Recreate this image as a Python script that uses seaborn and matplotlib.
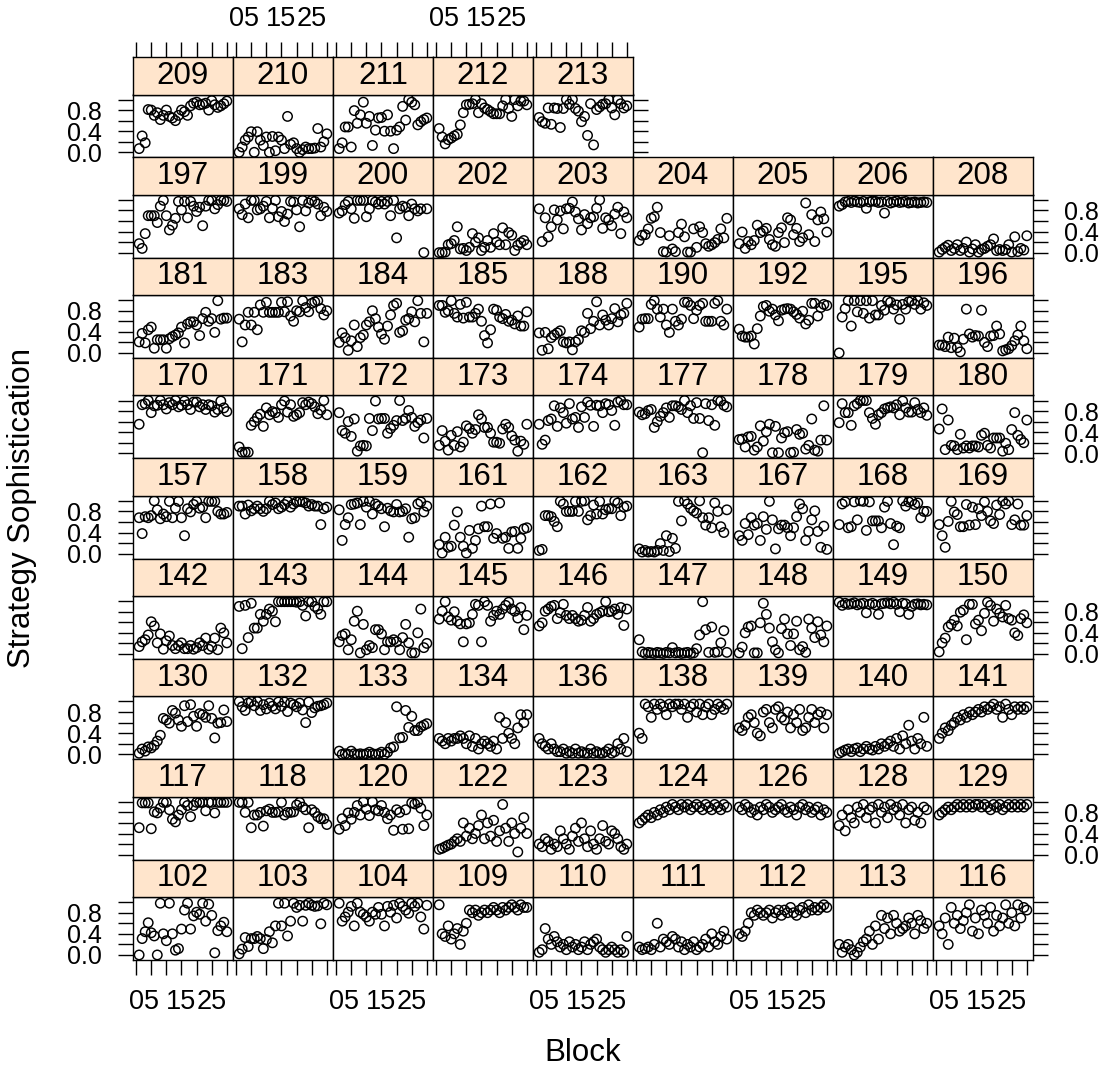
import matplotlib
matplotlib.use("Agg")
import matplotlib.pyplot as plt
import numpy as np
import pandas as pd
import seaborn as sns

# Strategy sophistication per block (blocks 1..30) for each subject
s102 = [0.00,0.31,0.44,0.61,0.42,0.36,0.00,0.98,0.40,0.27,0.98,0.40,0.09,0.12,0.49,0.85,0.98,0.49,0.74,0.81,0.77,0.98,0.64,0.96,0.75,0.04,0.46,0.55,0.62,0.44]
s103 = [0.02,0.11,0.33,0.16,0.31,0.31,0.35,0.31,0.12,0.29,0.44,0.23,0.55,0.98,0.55,0.98,0.36,0.64,0.98,0.90,0.94,0.64,0.94,0.98,0.94,0.92,0.93,0.59,0.98,0.95]
s104 = [0.98,0.64,0.72,0.81,0.92,0.55,0.98,0.81,0.77,0.72,0.64,0.81,0.77,0.90,0.77,0.55,0.92,0.81,0.94,0.70,0.98,0.92,0.85,0.79,0.98,0.92,0.98,0.72,0.49,0.94]
s109 = [0.95,0.40,0.35,0.55,0.30,0.40,0.50,0.20,0.45,0.60,0.85,0.80,0.85,0.75,0.80,0.85,0.80,0.85,0.90,0.85,0.80,0.90,0.85,0.90,0.95,0.90,0.85,0.95,0.90,0.90]
s110 = [0.05,0.10,0.50,0.30,0.20,0.35,0.25,0.15,0.20,0.10,0.25,0.15,0.20,0.10,0.15,0.25,0.10,0.20,0.25,0.30,0.15,0.10,0.05,0.10,0.15,0.10,0.05,0.10,0.05,0.35]
s111 = [0.15,0.10,0.12,0.15,0.10,0.20,0.60,0.15,0.30,0.25,0.20,0.35,0.30,0.15,0.25,0.10,0.20,0.15,0.25,0.10,0.15,0.20,0.30,0.15,0.40,0.25,0.20,0.35,0.45,0.30]
s112 = [0.40,0.35,0.45,0.60,0.80,0.75,0.85,0.80,0.75,0.80,0.85,0.70,0.80,0.85,0.75,0.85,0.80,0.90,0.80,0.75,0.85,0.90,0.80,0.95,0.85,0.90,0.85,0.90,0.95,0.90]
s113 = [0.20,0.05,0.15,0.20,0.10,0.00,0.05,0.15,0.25,0.30,0.45,0.20,0.55,0.30,0.75,0.50,0.70,0.40,0.75,0.60,0.45,0.50,0.55,0.70,0.60,0.40,0.75,0.65,0.50,0.60]
s116 = [0.55,0.40,0.70,0.20,0.90,0.60,0.75,0.50,0.65,0.80,0.95,0.45,0.70,0.40,0.85,0.75,0.60,0.90,0.45,0.75,0.55,0.70,0.95,0.60,0.80,0.55,0.95,0.70,0.90,0.85]
s117 = [0.51,0.98,0.98,0.98,0.49,0.81,0.79,0.88,0.99,0.99,0.85,0.67,0.62,0.75,0.85,0.99,0.93,0.72,0.93,0.99,0.99,0.99,0.83,0.99,0.99,0.79,0.99,0.99,0.99,0.99]
s118 = [0.99,0.99,0.80,0.99,0.51,0.75,0.75,0.80,0.54,0.83,0.86,0.80,0.80,0.81,0.99,0.75,0.80,0.80,0.81,0.94,0.99,0.90,0.85,0.51,0.85,0.80,0.72,0.68,0.68,0.57]
s120 = [0.48,0.68,0.55,0.79,0.67,0.80,0.93,0.75,1.00,0.86,0.74,1.00,0.85,0.83,0.93,0.80,0.68,0.75,0.46,0.85,0.80,0.48,0.85,0.49,0.98,0.96,0.99,0.88,0.55,0.75]
s122 = [0.10,0.12,0.15,0.18,0.20,0.25,0.30,0.25,0.60,0.35,0.50,0.30,0.40,0.55,0.75,0.30,0.60,0.35,0.65,0.25,0.45,0.95,0.50,0.25,0.60,0.40,0.05,0.50,0.70,0.40]
s123 = [0.20,0.15,0.30,0.25,0.10,0.20,0.15,0.45,0.30,0.20,0.10,0.35,0.50,0.25,0.60,0.30,0.15,0.45,0.20,0.10,0.30,0.55,0.25,0.20,0.45,0.40,0.30,0.15,0.10,0.20]
s124 = [0.60,0.65,0.70,0.75,0.70,0.80,0.75,0.85,0.80,0.90,0.85,0.95,0.90,0.85,0.95,0.90,0.95,0.85,0.90,0.95,0.90,0.85,0.95,0.90,0.85,0.95,0.90,0.85,0.95,0.90]
s126 = [0.90,0.85,0.95,0.90,0.80,0.85,0.75,0.90,0.85,0.95,0.90,0.80,0.85,0.90,0.95,0.85,0.80,0.90,0.85,0.75,0.90,0.95,0.85,0.90,0.80,0.85,0.90,0.75,0.85,0.80]
s128 = [0.55,0.75,0.45,0.85,0.70,0.60,0.90,0.80,0.95,0.70,0.85,0.90,0.60,0.95,0.80,0.90,0.70,0.95,0.85,0.90,0.75,0.95,0.60,0.85,0.90,0.65,0.80,0.60,0.90,0.85]
s129 = [0.75,0.80,0.85,0.90,0.85,0.90,0.95,0.90,0.95,0.90,0.95,0.90,0.95,0.95,0.90,0.95,0.90,0.85,0.95,0.90,0.95,0.85,0.90,0.95,0.90,0.95,0.90,0.95,0.90,0.95]
s130 = [0.02,0.10,0.06,0.14,0.12,0.17,0.25,0.36,0.68,0.65,0.59,0.83,0.78,0.65,0.53,0.92,0.62,0.94,0.72,0.53,0.77,0.75,0.70,0.92,0.68,0.31,0.59,0.60,0.84,0.62]
s132 = [1.00,0.90,0.83,0.97,1.00,0.92,1.00,0.83,0.94,0.86,0.97,0.91,0.86,0.99,0.91,0.99,0.81,0.97,0.94,0.90,0.97,0.84,0.60,0.99,0.79,0.88,0.91,0.92,0.94,0.97]
s133 = [0.06,0.00,0.01,0.00,0.06,0.01,0.00,0.01,0.00,0.01,0.04,0.01,0.00,0.01,0.04,0.00,0.04,0.12,0.14,0.90,0.31,0.32,0.83,0.51,0.72,0.45,0.45,0.52,0.55,0.58]
s134 = [0.30,0.25,0.20,0.30,0.25,0.30,0.30,0.35,0.30,0.20,0.35,0.15,0.30,0.10,0.20,0.25,0.20,0.15,0.25,0.10,0.70,0.30,0.60,0.40,0.30,0.20,0.50,0.75,0.60,0.75]
s136 = [0.30,0.20,0.15,0.10,0.20,0.10,0.05,0.05,0.10,0.02,0.05,0.02,0.10,0.02,0.05,0.02,0.02,0.10,0.02,0.05,0.02,0.02,0.05,0.10,0.02,0.05,0.20,0.10,0.30,0.05]
s138 = [0.40,0.30,0.95,0.90,0.70,0.95,0.85,0.95,0.90,0.75,0.95,0.90,0.95,0.95,0.85,0.95,0.70,0.90,0.95,0.80,0.95,0.75,0.90,0.95,0.75,0.85,0.95,0.90,0.85,0.95]
s139 = [0.50,0.45,0.55,0.70,0.75,0.60,0.40,0.35,0.80,0.85,0.60,0.50,0.85,0.90,0.70,0.65,0.80,0.50,0.75,0.60,0.85,0.45,0.50,0.70,0.85,0.60,0.75,0.80,0.50,0.75]
s140 = [0.02,0.05,0.08,0.10,0.05,0.10,0.12,0.05,0.10,0.15,0.10,0.08,0.15,0.10,0.20,0.15,0.20,0.25,0.15,0.30,0.10,0.35,0.20,0.55,0.25,0.10,0.30,0.20,0.70,0.15]
s141 = [0.30,0.40,0.50,0.45,0.55,0.60,0.70,0.65,0.75,0.70,0.80,0.75,0.80,0.85,0.80,0.90,0.85,0.90,0.95,0.85,0.90,0.70,0.95,0.85,0.75,0.90,0.85,0.90,0.85,0.90]
s142 = [0.14,0.23,0.27,0.36,0.61,0.53,0.21,0.38,0.09,0.25,0.34,0.16,0.10,0.16,0.21,0.10,0.10,0.16,0.09,0.12,0.21,0.16,0.30,0.09,0.14,0.30,0.08,0.49,0.40,0.21]
s143 = [0.90,0.10,0.92,0.31,0.96,0.49,0.49,0.75,0.62,0.75,0.85,0.81,0.61,0.99,0.99,0.99,0.99,0.99,0.99,0.98,0.99,0.92,0.72,0.99,0.99,0.90,0.85,0.75,0.99,0.99]
s144 = [0.23,0.35,0.38,0.08,0.27,0.62,0.81,0.02,0.56,0.08,0.16,0.12,0.46,0.46,0.38,0.08,0.23,0.23,0.27,0.23,0.08,0.31,0.56,0.21,0.02,0.02,0.40,0.85,0.12,0.20]
s145 = [0.66,0.81,0.99,0.70,0.64,0.80,0.62,0.57,0.23,0.57,0.59,0.75,0.94,0.92,0.23,0.99,0.92,0.62,0.73,0.81,0.75,0.85,0.92,0.98,0.85,0.81,0.68,0.88,0.46,0.73]
s146 = [0.53,0.59,0.81,0.85,0.90,0.92,0.67,0.78,0.94,0.73,0.67,0.73,0.67,0.62,0.64,0.73,0.88,0.62,0.67,0.75,0.78,0.81,0.99,0.80,0.81,0.85,0.75,0.88,0.54,0.85]
s147 = [0.27,0.04,0.01,0.03,0.02,0.01,0.03,0.02,0.01,0.03,0.02,0.12,0.02,0.03,0.01,0.02,0.03,0.01,0.02,0.10,0.36,0.99,0.46,0.03,0.51,0.03,0.04,0.21,0.44,0.03]
s148 = [0.02,0.13,0.40,0.51,0.53,0.02,0.02,0.59,0.96,0.75,0.49,0.23,0.08,0.02,0.48,0.66,0.38,0.16,0.38,0.62,0.08,0.14,0.03,0.66,0.49,0.31,0.61,0.36,0.23,0.53]
s149 = [0.98,0.92,0.96,0.94,0.95,0.97,0.93,0.95,0.96,0.78,0.94,0.96,0.93,0.75,0.95,0.96,0.97,0.95,0.98,0.94,0.80,0.96,0.95,0.75,0.90,0.94,0.95,0.93,0.94,0.93]
s150 = [0.04,0.21,0.30,0.51,0.56,0.64,0.53,0.79,0.83,0.27,0.94,0.94,0.57,0.64,0.44,0.77,0.98,0.92,0.62,0.85,0.77,0.70,0.92,0.67,0.64,0.40,0.35,0.67,0.74,0.59]
s157 = [0.68,0.38,0.70,0.68,0.72,1.00,0.83,0.66,0.75,0.70,0.99,0.68,0.86,0.99,0.68,0.34,0.85,0.79,0.93,0.99,0.86,0.88,0.68,0.99,0.99,0.99,0.80,0.75,0.75,0.78]
s158 = [0.90,0.90,0.75,0.92,0.81,0.85,0.90,0.85,0.80,0.85,0.99,0.93,0.96,0.85,0.88,0.93,0.99,0.88,0.94,0.98,0.99,0.98,0.96,0.90,0.93,0.90,0.90,0.55,0.85,0.88]
s159 = [0.83,0.25,0.55,0.68,0.93,0.94,0.96,0.55,0.99,0.88,0.99,0.75,0.94,0.90,0.85,0.51,0.86,0.81,0.79,0.93,0.79,0.80,0.85,0.31,0.66,0.68,0.94,0.98,0.79,0.90]
s161 = [0.17,0.01,0.31,0.12,0.14,0.54,0.79,0.31,0.14,0.01,0.44,0.10,0.25,0.47,0.90,0.51,0.51,0.94,0.29,0.38,0.96,0.29,0.31,0.10,0.41,0.42,0.10,0.29,0.47,0.49]
s162 = [0.06,0.08,0.72,0.72,0.70,0.61,0.51,0.99,0.94,0.80,0.80,0.80,0.99,0.80,0.99,1.00,0.64,0.72,0.92,0.75,0.99,0.75,0.83,0.85,0.85,1.00,0.96,0.72,0.88,0.90]
s163 = [0.09,0.03,0.06,0.03,0.04,0.03,0.06,0.19,0.06,0.34,0.04,0.29,0.10,0.99,0.62,1.00,0.94,0.86,0.81,0.77,1.00,0.68,0.54,0.68,0.49,0.96,0.80,0.51,0.40,0.83]
s167 = [0.34,0.25,0.57,0.36,0.68,0.54,0.57,0.25,0.70,0.46,0.99,0.64,0.09,0.47,0.54,0.54,0.49,0.34,0.49,0.70,0.94,0.85,0.25,0.42,0.64,0.81,0.42,0.12,0.52,0.08]
s168 = [0.55,0.94,0.98,0.49,0.51,0.98,0.64,1.00,0.99,0.44,0.98,0.62,0.62,0.62,0.49,0.88,0.99,0.57,0.17,0.52,0.49,1.00,0.90,0.98,1.00,0.93,0.96,0.68,0.80,0.80]
s169 = [0.55,0.34,0.12,0.61,0.99,0.79,0.74,0.51,0.51,0.93,0.54,0.88,0.55,0.85,0.72,0.98,0.80,0.62,0.57,0.92,0.74,1.00,0.94,1.00,0.55,0.64,0.94,0.54,0.54,0.72]
s170 = [0.55,0.92,0.94,1.00,0.77,0.90,0.91,1.00,0.92,0.84,0.96,0.92,1.00,0.88,0.91,0.99,0.92,0.83,0.97,0.97,0.88,0.92,0.83,0.92,0.90,0.78,0.83,0.99,0.86,0.79]
s171 = [0.12,0.02,0.02,0.02,0.53,0.60,0.68,0.74,0.51,0.86,0.73,0.79,0.77,0.68,0.92,0.99,0.78,0.92,0.70,0.73,0.77,0.96,0.92,0.97,0.94,0.88,0.75,0.82,1.00,0.73]
s172 = [0.77,0.43,0.38,0.60,0.32,0.65,0.04,0.14,0.15,0.14,0.66,0.43,0.99,0.65,0.66,0.66,0.38,0.47,0.53,0.62,1.00,0.62,0.66,0.81,0.68,0.51,0.58,0.63,0.29,0.66]
s173 = [0.15,0.43,0.23,0.06,0.34,0.15,0.41,0.12,0.21,0.52,0.47,0.38,0.45,0.73,0.65,0.49,0.49,0.38,0.21,0.21,0.19,0.46,0.55,0.49,0.33,0.25,0.04,0.23,0.17,0.55]
s174 = [0.55,0.17,0.25,0.62,0.65,0.90,0.51,0.86,0.77,0.57,0.94,0.65,0.68,0.49,0.88,0.68,0.97,0.91,0.51,0.91,0.90,0.77,0.94,0.92,0.81,0.53,0.97,1.00,0.92,0.92]
s177 = [0.78,0.73,0.75,0.81,0.83,0.49,0.60,0.70,0.77,0.86,0.68,0.90,0.90,0.88,0.83,1.00,0.77,0.90,0.66,0.96,0.66,0.01,0.94,0.62,0.92,0.53,1.00,0.99,0.91,0.88]
s178 = [0.26,0.27,0.12,0.31,0.32,0.06,0.12,0.52,0.23,0.41,0.55,0.01,0.51,0.01,0.29,0.39,0.41,0.01,0.02,0.45,0.36,0.38,0.08,0.15,0.65,0.06,0.04,0.25,0.90,0.25]
s179 = [0.58,0.94,0.77,0.77,0.53,0.90,0.94,1.00,1.00,1.00,0.77,0.66,0.55,0.73,0.77,0.84,0.86,0.88,0.86,0.92,0.73,0.99,0.86,0.78,0.78,0.96,0.83,0.77,0.86,0.72]
s180 = [0.46,0.84,0.07,0.63,0.15,0.14,0.07,0.36,0.10,0.14,0.10,0.14,0.14,0.12,0.34,0.38,0.15,0.10,0.29,0.29,0.29,0.04,0.19,0.07,0.45,0.77,0.34,0.26,0.20,0.63]
s181 = [0.21,0.37,0.19,0.44,0.49,0.09,0.25,0.25,0.25,0.09,0.27,0.31,0.34,0.38,0.49,0.19,0.55,0.59,0.59,0.53,0.33,0.65,0.77,0.60,0.65,0.39,0.99,0.64,0.66,0.66]
s183 = [0.64,0.21,0.53,0.77,0.53,0.77,0.44,0.91,0.77,0.96,0.77,0.77,0.77,0.77,0.96,0.78,0.97,0.70,0.60,0.80,0.78,0.99,0.86,0.78,0.94,0.97,0.99,0.84,0.72,0.80]
s184 = [0.20,0.38,0.29,0.05,0.23,0.53,0.12,0.29,0.34,0.53,0.59,0.80,0.65,0.49,0.36,0.26,0.51,0.72,0.90,0.94,0.39,0.42,0.62,0.65,0.78,0.59,0.99,0.75,0.21,0.75]
s185 = [0.90,0.90,0.77,0.80,0.99,0.75,0.68,0.92,0.66,0.96,0.68,0.68,0.75,0.83,0.60,0.33,0.19,0.44,0.83,0.81,0.68,0.65,0.73,0.60,0.62,0.55,0.70,0.51,0.51,0.78]
s188 = [0.38,0.05,0.39,0.08,0.29,0.34,0.38,0.42,0.21,0.19,0.21,0.06,0.21,0.25,0.42,0.39,0.75,0.46,0.60,0.97,0.53,0.72,0.62,0.53,0.65,0.84,0.59,0.72,0.75,0.94]
s190 = [0.49,0.64,0.65,0.65,0.92,0.99,0.83,0.68,0.83,0.53,0.39,0.83,0.60,0.53,0.64,0.96,0.96,0.90,0.65,0.81,0.90,0.94,0.60,0.60,0.60,0.94,0.99,0.60,0.53,0.83]
s192 = [0.45,0.32,0.30,0.30,0.32,0.17,0.46,0.70,0.88,0.90,0.79,0.83,0.72,0.61,0.81,0.83,0.84,0.83,0.78,0.73,0.66,0.79,0.55,0.62,0.94,0.94,0.70,0.86,0.92,0.90]
s195 = [0.00,0.68,0.84,0.99,0.51,0.99,0.78,0.99,0.75,0.99,0.66,0.99,0.72,0.72,0.90,0.81,0.99,0.96,0.83,0.91,0.64,0.92,0.83,0.97,0.99,0.92,0.99,0.83,0.95,0.90]
s196 = [0.15,0.15,0.12,0.30,0.10,0.28,0.10,0.02,0.26,0.83,0.36,0.30,0.33,0.32,0.81,0.20,0.12,0.32,0.33,0.51,0.36,0.04,0.06,0.08,0.14,0.23,0.34,0.51,0.23,0.08]
s197 = [0.17,0.08,0.36,0.70,0.70,0.70,0.57,0.88,0.99,0.70,0.43,0.52,0.65,0.97,0.81,0.97,0.66,0.97,0.88,0.78,0.86,0.51,0.88,0.99,0.99,0.83,0.91,0.99,0.99,0.97]
s199 = [0.83,0.72,0.92,0.66,0.99,0.99,0.81,0.83,0.88,0.97,0.66,0.84,0.99,0.68,0.78,0.59,0.73,0.97,0.96,0.81,0.49,0.99,0.79,0.94,0.99,0.97,0.92,0.70,0.86,0.78]
s200 = [0.75,0.79,0.91,0.97,0.83,0.65,0.99,0.99,0.99,0.68,0.83,0.99,0.96,0.92,0.97,0.92,0.97,0.70,0.99,0.28,0.83,0.88,0.86,0.70,0.92,0.83,0.79,0.83,0.00,0.83]
s202 = [0.00,0.00,0.01,0.15,0.17,0.23,0.49,0.07,0.08,0.04,0.10,0.36,0.20,0.28,0.04,0.10,0.23,0.10,0.36,0.20,0.15,0.47,0.15,0.38,0.33,0.04,0.14,0.19,0.23,0.15]
s203 = [0.83,0.21,0.66,0.30,0.49,0.81,0.62,0.79,0.45,0.83,0.84,0.96,0.77,0.64,0.43,0.72,0.55,0.66,0.68,0.84,1.00,0.46,0.66,0.62,0.51,0.73,0.86,0.36,0.77,0.66]
s204 = [0.23,0.33,0.34,0.45,0.65,0.68,0.86,0.38,0.02,0.01,0.32,0.07,0.02,0.38,0.54,0.30,0.01,0.01,0.45,0.10,0.49,0.38,0.17,0.12,0.15,0.19,0.25,0.45,0.28,0.65]
s205 = [0.17,0.39,0.08,0.21,0.15,0.23,0.52,0.38,0.41,0.46,0.25,0.15,0.12,0.38,0.47,0.19,0.66,0.62,0.34,0.46,0.21,0.28,0.94,0.34,0.72,0.21,0.62,0.77,0.64,0.39]
s206 = [0.88,0.91,0.96,0.97,0.95,0.98,0.96,0.95,0.97,0.84,0.96,0.98,0.97,0.95,0.96,0.75,0.97,0.94,0.96,0.98,0.95,0.96,0.97,0.94,0.95,0.96,0.94,0.95,0.96,0.95]
s208 = [0.01,0.06,0.10,0.14,0.04,0.08,0.15,0.04,0.08,0.20,0.01,0.07,0.15,0.01,0.06,0.08,0.12,0.15,0.26,0.04,0.06,0.04,0.06,0.15,0.01,0.30,0.02,0.08,0.05,0.32]
s209 = [0.07,0.31,0.18,0.81,0.80,0.70,0.75,0.62,0.70,0.80,0.68,0.65,0.60,0.70,0.80,0.77,0.70,0.88,0.93,0.95,0.90,0.91,0.93,0.80,0.98,0.90,0.85,0.88,0.92,0.97]
s210 = [0.00,0.10,0.23,0.29,0.39,0.00,0.39,0.23,0.13,0.29,0.00,0.30,0.03,0.29,0.23,0.07,0.68,0.15,0.18,0.07,0.00,0.05,0.10,0.07,0.07,0.08,0.45,0.10,0.20,0.35]
s211 = [0.07,0.18,0.48,0.48,0.10,0.79,0.55,0.71,0.95,0.55,0.68,0.13,0.42,0.65,0.66,0.40,0.71,0.40,0.07,0.42,0.48,0.87,0.61,1.00,0.95,0.90,0.52,0.58,0.62,0.65]
s212 = [0.45,0.29,0.16,0.24,0.27,0.31,0.34,0.52,0.75,0.90,0.91,0.92,1.00,0.75,0.92,0.84,0.81,0.77,0.73,0.73,0.73,0.88,1.00,0.83,0.68,1.00,0.88,0.97,0.97,0.90]
s213 = [0.66,0.58,0.55,0.84,0.53,0.84,0.83,0.47,0.83,1.00,0.91,1.00,0.83,0.78,0.58,0.68,0.32,0.92,0.14,0.81,0.86,0.91,0.92,1.00,0.84,0.71,1.00,0.92,0.84,0.88]

# Panel layout, top row first
panel_rows = [
    [209, 210, 211, 212, 213],
    [197, 199, 200, 202, 203, 204, 205, 206, 208],
    [181, 183, 184, 185, 188, 190, 192, 195, 196],
    [170, 171, 172, 173, 174, 177, 178, 179, 180],
    [157, 158, 159, 161, 162, 163, 167, 168, 169],
    [142, 143, 144, 145, 146, 147, 148, 149, 150],
    [130, 132, 133, 134, 136, 138, 139, 140, 141],
    [117, 118, 120, 122, 123, 124, 126, 128, 129],
    [102, 103, 104, 109, 110, 111, 112, 113, 116],
]

x_ticks = [0, 5, 10, 15, 20, 25, 30]
x_tick_labels = ["0", "5", "", "15", "", "25", ""]
y_ticks = [0.0, 0.2, 0.4, 0.6, 0.8, 1.0]
y_tick_labels = ["0.0", "", "0.4", "", "0.8", ""]

values_by_subject = {sid: globals()[f"s{sid}"] for row in panel_rows for sid in row}
records = []
for sid, vals in values_by_subject.items():
    for blk, v in enumerate(vals, start=1):
        records.append((sid, blk, v))
df = pd.DataFrame(records, columns=["Subject", "Block", "Sophistication"])

plt.rcParams["font.family"] = ["Liberation Sans", "DejaVu Sans"]

W, H = 1106, 1072
fig = plt.figure(figsize=(W / 100, H / 100), dpi=100)

left0, top0 = 133.0, 57.0
col_w = 100.0
row_h = 100.33
strip_h = 37.5
plot_h = row_h - strip_h

xlim = (-1.03, 32.03)
ylim = (-0.095, 1.095)
strip_bg = "#FFE5CC"
frame_lw = 1.0
tick_len = 11
n_rows = len(panel_rows)


def fig_rect(x, y, w, h):
    return [x / W, 1 - (y + h) / H, w / W, h / H]


for r, row in enumerate(panel_rows):
    last_col = len(row) - 1
    for c, sid in enumerate(row):
        x0 = left0 + c * col_w
        y_strip = top0 + r * row_h
        y_plot = y_strip + strip_h

        ax = fig.add_axes(fig_rect(x0, y_plot, col_w, plot_h))
        sub = df[df["Subject"] == sid]
        sns.scatterplot(data=sub, x="Block", y="Sophistication", ax=ax,
                        marker="o", s=46, facecolors="none",
                        edgecolor="black", linewidth=1.05, legend=False)
        ax.set_xlim(*xlim)
        ax.set_ylim(*ylim)
        ax.set_xlabel("")
        ax.set_ylabel("")
        ax.set_xticks(x_ticks)
        ax.set_xticklabels(x_tick_labels)
        ax.set_yticks(y_ticks)
        ax.set_yticklabels(y_tick_labels)
        for sp in ax.spines.values():
            sp.set_linewidth(frame_lw)
            sp.set_color("black")

        is_bottom = r == n_rows - 1
        ax.tick_params(axis="x", direction="out", length=tick_len, width=1.0,
                       labelsize=19.5, pad=10,
                       bottom=is_bottom, top=False,
                       labelbottom=is_bottom and c % 2 == 0, labeltop=False)
        ax.tick_params(axis="y", direction="out", length=tick_len, width=1.0,
                       labelsize=18, pad=11.5,
                       left=(c == 0), right=(c == last_col),
                       labelleft=(c == 0 and r % 2 == 0),
                       labelright=(c == last_col and r % 2 == 1))

        # strip with the subject id
        sax = fig.add_axes(fig_rect(x0, y_strip, col_w, strip_h))
        sax.set_facecolor(strip_bg)
        sax.set_xlim(*xlim)
        sax.set_ylim(0, 1)
        sax.set_yticks([])
        sax.set_xticks(x_ticks)
        sax.set_xticklabels(x_tick_labels)
        is_top = r == 0
        sax.tick_params(axis="x", direction="out", length=tick_len, width=1.0,
                        labelsize=19.5, pad=7,
                        bottom=False, top=is_top,
                        labelbottom=False, labeltop=is_top and c % 2 == 1)
        for sp in sax.spines.values():
            sp.set_linewidth(frame_lw)
            sp.set_color("black")
        sax.text(0.5, 0.5, str(sid), transform=sax.transAxes,
                 ha="center", va="center", fontsize=22.5)

fig.text((left0 + 4.5 * col_w) / W, 1 - 1053 / H, "Block",
         ha="center", va="center", fontsize=22.5)
fig.text(22 / W, 1 - (top0 + 4.5 * row_h) / H, "Strategy Sophistication",
         ha="center", va="center", rotation=90, fontsize=22.5)

fig.savefig("out.png", dpi=100)
